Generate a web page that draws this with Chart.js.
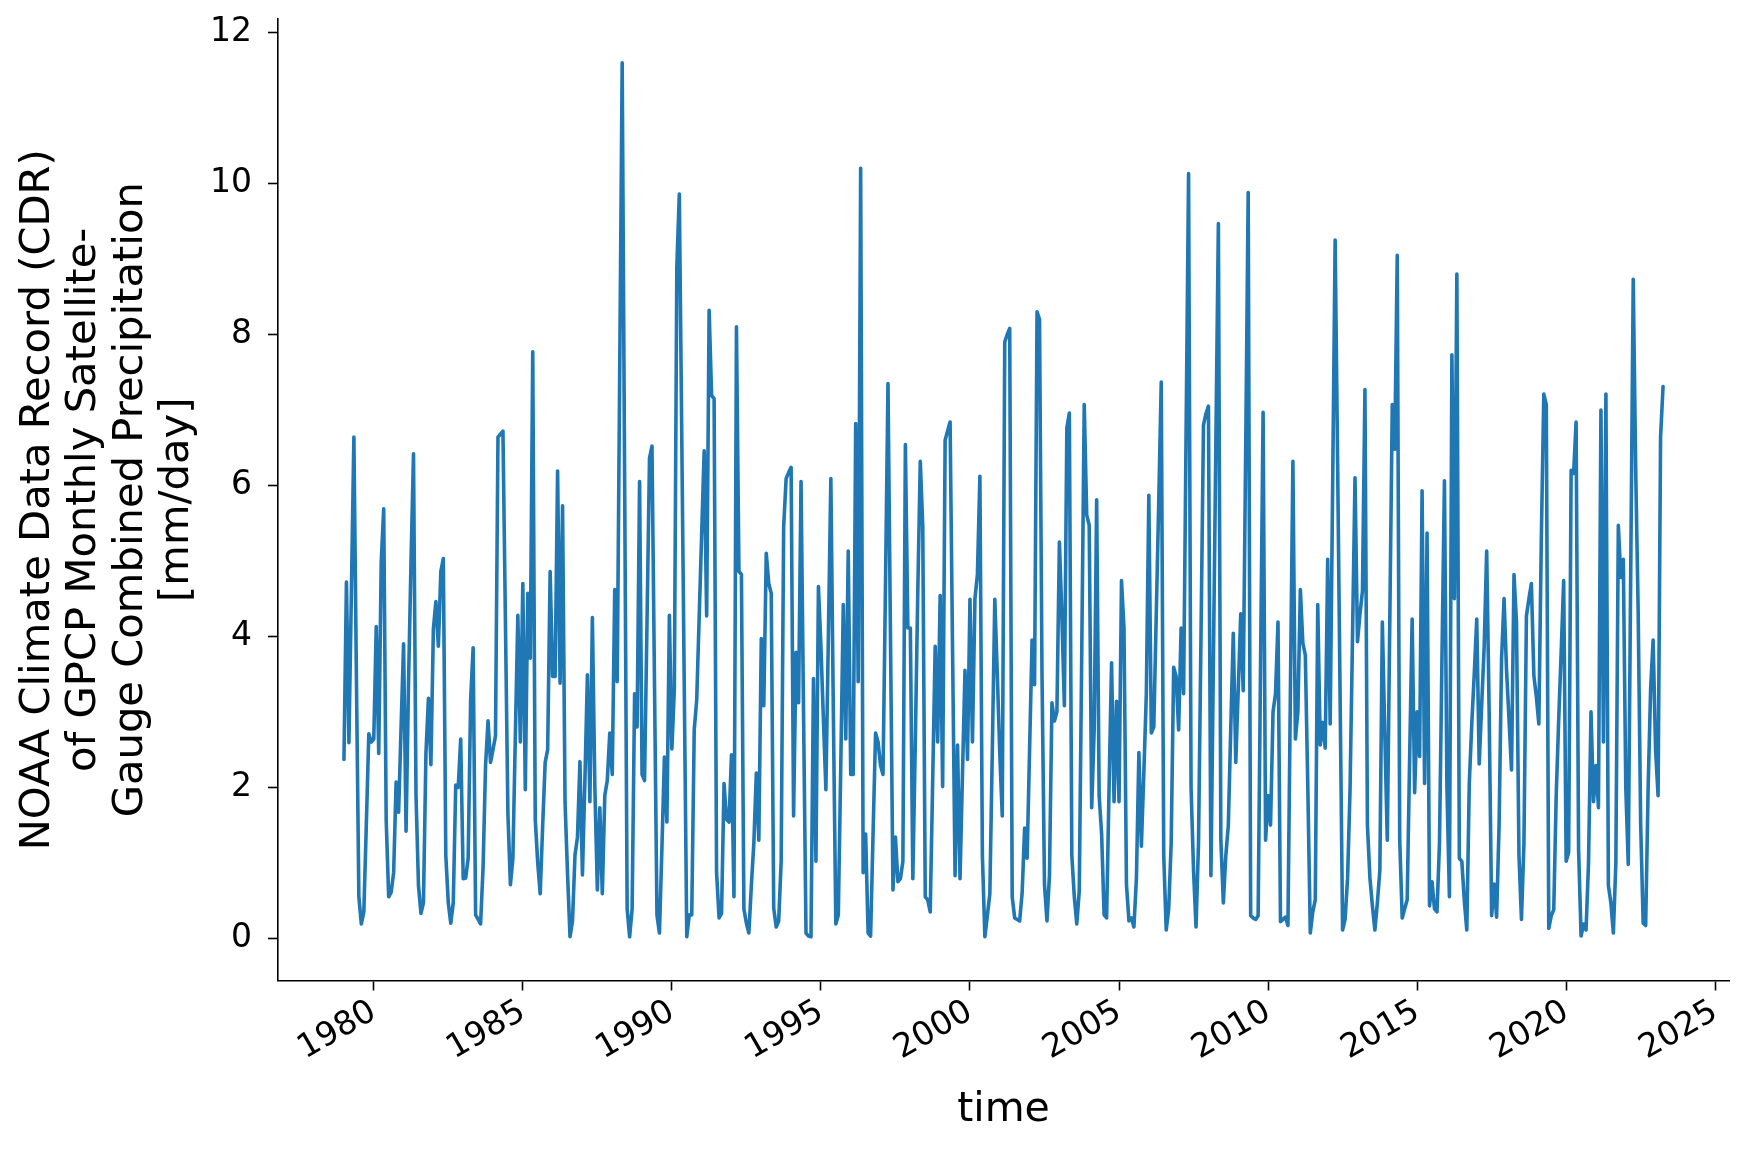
<!DOCTYPE html>
<html><head><meta charset="utf-8">
<script src="https://cdn.jsdelivr.net/npm/chart.js@4.4.1/dist/chart.umd.min.js"></script>
<style>html,body{margin:0;padding:0;background:#fff;}canvas{display:block;}</style>
</head><body>
<canvas id="c" width="1749" height="1149"></canvas>
<script>
const startYear = 1979;
const precip = [
2.37,4.72,2.59,4.6,6.64,3.5,0.55,0.19,0.35,1.5,
2.71,2.6,2.64,4.13,2.45,4.98,5.69,1.57,0.55,0.61,
0.87,2.07,1.67,2.8,3.9,1.42,3.4,5.0,6.42,1.9,
0.7,0.33,0.47,2.45,3.18,2.3,4.1,4.46,3.87,4.86,
5.03,1.1,0.47,0.2,
0.47,2.03,2.0,2.64,0.79,0.8,
1.06,3.16,3.85,0.31,0.25,0.19,0.94,2.29,2.88,2.33,
2.5,2.68,6.64,6.68,6.72,4.2,1.65,0.71,1.06,2.7,
4.28,2.6,4.7,1.97,4.57,3.71,7.77,1.58,1.0,0.59,
1.5,2.33,2.5,4.86,3.47,3.47,6.19,3.38,5.73,
1.8,0.86,0.02,0.23,1.1,1.34,2.34,0.84,2.1,3.49,1.81,
4.25,2.0,0.64,1.73,0.59,1.89,2.09,2.72,2.17,4.62,
3.4,7.5,11.6,6.0,0.39,0.02,0.39,3.24,2.8,6.05,
2.17,2.09,4.2,6.36,6.52,3.4,0.31,0.07,1.2,2.4,
1.54,4.28,2.51,
3.3,8.9,9.86,6.6,3.3,0.02,0.31,
0.31,2.76,3.16,4.26,5.36,6.46,4.27,8.32,7.19,7.15,
0.87,0.27,0.33,2.05,1.58,1.54,2.43,0.55,8.1,4.86,
4.82,0.39,0.2,0.07,0.7,1.26,2.19,1.3,3.97,3.08,
5.1,4.7,4.57,0.4,0.15,0.23,1.02,5.45,
6.09,6.17,6.24,1.62,3.79,3.12,6.05,3.0,0.07,0.03,0.02,3.44,
1.02,4.66,3.87,2.9,1.97,4.0,6.09,3.0,0.19,0.31,
2.3,4.42,2.64,5.13,2.17,2.17,6.82,3.4,10.2,0.87,
1.38,0.07,0.03,1.4,2.72,2.6,2.29,2.17,4.7,7.35,
4.0,0.64,1.34,
0.75,0.79,1.02,6.54,4.11,4.11,0.79,
2.6,4.6,6.32,5.45,0.55,0.51,0.35,2.1,3.87,2.6,
4.54,2.01,6.6,6.72,6.84,3.8,0.83,2.56,0.79,2.2,
3.55,2.37,4.49,2.6,4.5,4.82,6.12,1.1,0.02,0.3,
0.59,2.5,4.49,3.5,2.45,1.62,7.9,8.0,
8.08,0.55,0.27,0.25,0.23,0.6,1.46,1.06,2.5,3.95,3.36,8.3,
8.2,3.5,0.71,0.23,0.83,3.12,2.88,3.0,5.25,4.27,
3.08,6.76,6.96,1.1,0.55,0.19,0.63,3.8,7.07,5.61,
5.47,1.73,2.76,5.81,1.89,1.38,0.31,0.27,2.0,3.65,
1.81,3.14,1.81,
4.74,4.11,0.71,0.23,0.27,0.15,0.79,
2.46,1.22,2.2,3.24,5.87,2.72,2.8,4.3,5.8,7.37,
1.1,0.11,0.39,1.26,3.59,3.47,2.76,4.11,3.24,6.7,
10.13,2.0,0.9,0.15,1.26,4.0,6.8,6.95,7.05,0.83,
3.7,6.6,9.47,1.3,0.47,1.1,1.5,2.8,4.04,
2.33,3.3,4.3,3.28,6.5,9.88,0.3,0.27,0.25,0.3,3.7,
6.97,1.3,1.89,1.5,3.0,3.24,4.19,0.22,0.25,0.28,
0.17,3.3,6.32,2.64,3.0,4.62,3.91,3.75,2.0,0.07,
0.35,0.51,4.42,2.56,2.86,2.52,5.02,2.84,6.0,9.25,
6.3,3.2,0.11,0.25,
0.79,1.97,4.0,6.1,3.93,4.3,
4.6,7.27,1.5,0.8,0.43,0.11,0.47,0.9,4.19,2.7,
1.3,4.2,7.07,6.48,9.05,1.3,0.27,0.39,0.51,2.4,
4.23,1.93,3.0,2.41,5.93,2.05,5.37,0.43,0.75,0.39,
0.35,1.26,3.7,6.06,2.0,0.55,7.73,4.5,
8.8,1.06,1.02,0.5,0.11,2.05,2.84,3.5,4.23,2.31,3.1,3.87,
5.13,3.0,0.3,0.72,0.28,1.5,3.71,4.5,3.55,2.9,
2.23,4.82,4.19,1.1,0.25,1.26,4.27,4.5,4.7,3.48,
3.2,2.84,5.3,7.21,7.07,0.13,0.3,0.38,1.9,2.9,
3.8,4.74,1.02,
1.14,6.2,6.16,6.84,1.18,0.03,0.19,
0.11,1.0,3.0,1.81,2.29,1.73,7.0,2.6,7.21,0.7,
0.47,0.07,1.0,5.47,4.78,5.02,2.0,0.98,4.9,8.73,
6.2,4.3,1.5,0.2,0.17,2.0,3.3,3.95,2.49,1.89,
6.64,7.31
];
const xTickYears = [1980,1985,1990,1995,2000,2005,2010,2015,2020,2025];
const yTickValues = [0,2,4,6,8,10,12];
const xTitle = 'time';
const yTitleLines = ['NOAA Climate Data Record (CDR)','of GPCP Monthly Satellite-','Gauge Combined Precipitation','[mm/day]'];

const points = precip.map((v, i) => ({x: startYear + i / 12, y: v}));
const xFirst = points[0].x, xLast = points[points.length - 1].x;
const xPad = 0.05 * (xLast - xFirst);
const yLo = Math.min(...precip), yHi = Math.max(...precip);
const yPad = 0.05 * (yHi - yLo);

const FONT = 'DejaVu Sans';
const INK = '#000';

new Chart(document.getElementById('c'), {
  type: 'line',
  data: { datasets: [{
    data: points,
    borderColor: '#1f77b4',
    borderWidth: 3.6,
    borderJoinStyle: 'round',
    borderCapStyle: 'round',
    pointRadius: 0,
    fill: false,
    tension: 0
  }]},
  options: {
    responsive: false,
    animation: false,
    devicePixelRatio: 1,
    layout: { padding: { top: 19, right: 20, left: 0, bottom: 0 } },
    plugins: { legend: { display: false }, tooltip: { enabled: false } },
    scales: {
      x: {
        type: 'linear',
        min: xFirst - xPad,
        max: xLast + xPad,
        afterBuildTicks: s => { s.ticks = xTickYears.map(v => ({ value: v })); },
        afterFit: s => { s.height = 168.5; s.paddingLeft = 0; s.paddingRight = 0; },
        ticks: { autoSkip: false, minRotation: 30, maxRotation: 30, padding: 2,
                 font: { family: FONT, size: 33 }, color: INK, callback: v => String(v) },
        grid: { display: true, drawOnChartArea: false, drawTicks: true, tickLength: 10,
                tickWidth: 1.6, tickColor: INK },
        border: { display: true, color: INK, width: 1.6 },
        title: { display: true, text: xTitle, color: INK,
                 font: { family: FONT, size: 41, lineHeight: 1.13 }, padding: { top: 0, bottom: 15 } }
      },
      y: {
        type: 'linear',
        min: yLo - yPad,
        max: yHi + yPad,
        afterBuildTicks: s => { s.ticks = yTickValues.map(v => ({ value: v })); },
        afterFit: s => { s.width = 278; s.paddingTop = 0; s.paddingBottom = 0; },
        ticks: { autoSkip: false, padding: 16, font: { family: FONT, size: 33 }, color: INK,
                 callback: v => String(v) },
        grid: { display: true, drawOnChartArea: false, drawTicks: true, tickLength: 10,
                tickWidth: 1.6, tickColor: INK },
        border: { display: true, color: INK, width: 1.6 },
        title: { display: true, text: yTitleLines, color: INK,
                 font: { family: FONT, size: 41.7, lineHeight: 1.11 }, padding: { top: 15, bottom: 0 } }
      }
    }
  }
});
</script>
</body></html>
